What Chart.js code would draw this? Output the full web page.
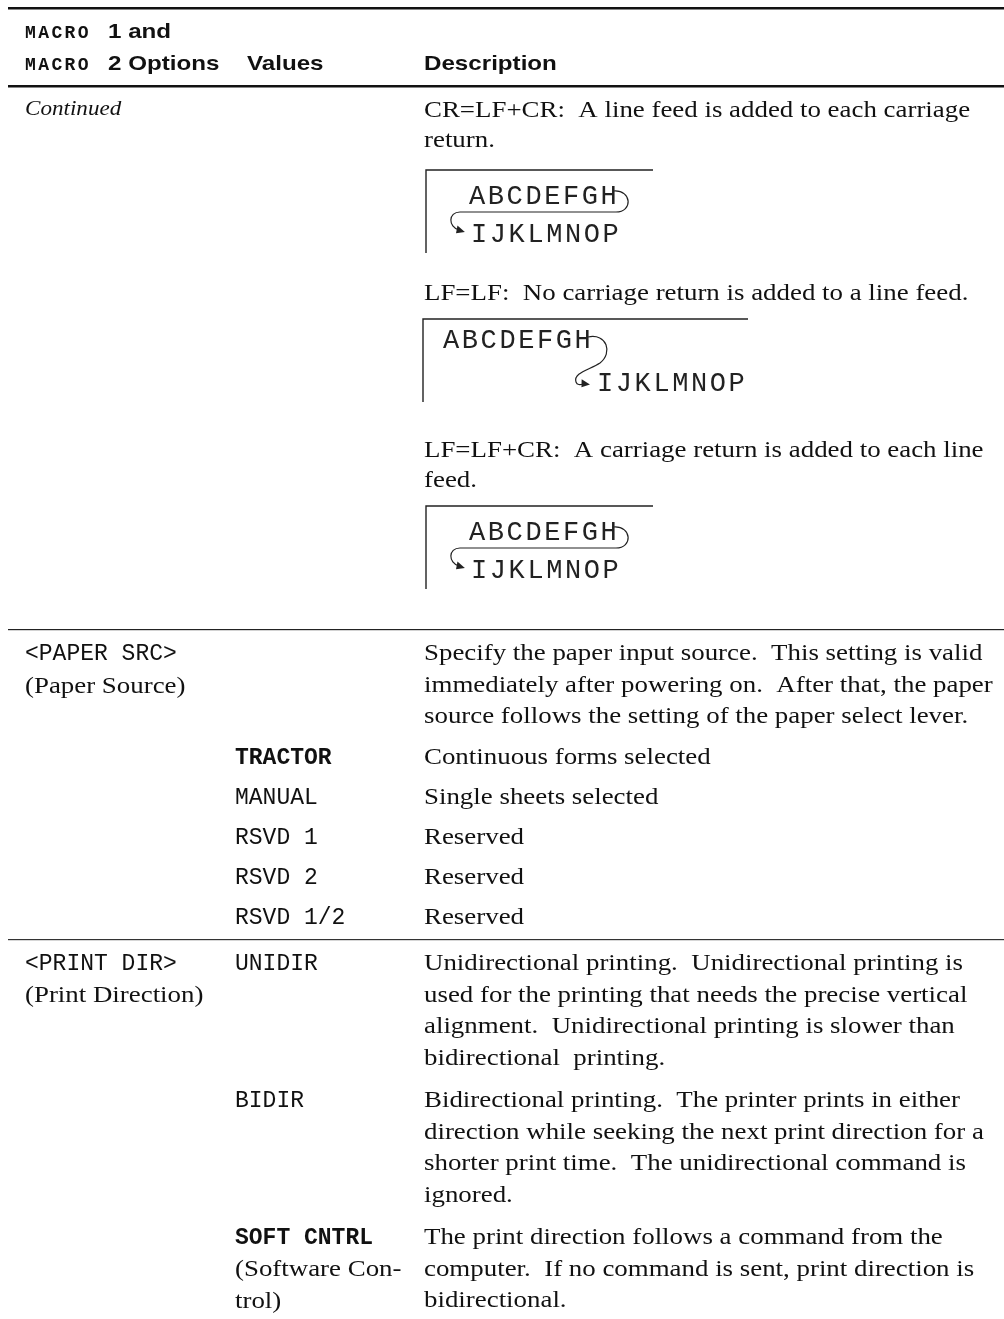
<!DOCTYPE html>
<html>
<head>
<meta charset="utf-8">
<script src="https://cdn.jsdelivr.net/npm/chart.js@4"></script>
<style>
  html, body { margin: 0; padding: 0; background: #fff; }
  #page { display: block; }
</style>
</head>
<body>
<canvas id="page" width="1004" height="1319"></canvas>
<script>
// header cells
const headOptions = [["MACRO", "1 and"], ["MACRO", "2 Options"]];
const headValues = "Values";
const headDesc = "Description";

// first block (continued from previous page)
const continuedLabel = "Continued";
const crLines = ["CR=LF+CR:  A line feed is added to each carriage", "return."];
const lfLines = ["LF=LF:  No carriage return is added to a line feed."];
const lfcrLines = ["LF=LF+CR:  A carriage return is added to each line", "feed."];
const diagramTop = "ABCDEFGH";
const diagramBottom = "IJKLMNOP";

// paper source
const paperOption = ["<PAPER SRC>", "(Paper Source)"];
const paperIntro = [
  "Specify the paper input source.  This setting is valid",
  "immediately after powering on.  After that, the paper",
  "source follows the setting of the paper select lever."
];
const paperValues = ["TRACTOR", "MANUAL", "RSVD 1", "RSVD 2", "RSVD 1/2"];
const paperDescs = ["Continuous forms selected", "Single sheets selected", "Reserved", "Reserved", "Reserved"];
const paperDefault = "TRACTOR";

// print direction
const printOption = ["<PRINT DIR>", "(Print Direction)"];
const printValues = ["UNIDIR", "BIDIR", "SOFT CNTRL"];
const printValueNotes = [[], [], ["(Software Con-", "trol)"]];
const printDescs = [
  ["Unidirectional printing.  Unidirectional printing is",
   "used for the printing that needs the precise vertical",
   "alignment.  Unidirectional printing is slower than",
   "bidirectional  printing."],
  ["Bidirectional printing.  The printer prints in either",
   "direction while seeking the next print direction for a",
   "shorter print time.  The unidirectional command is",
   "ignored."],
  ["The print direction follows a command from the",
   "computer.  If no command is sent, print direction is",
   "bidirectional."]
];
const printDefault = "SOFT CNTRL";

// fonts: [css font, horizontal stretch]
const SERIF = ['24px "Liberation Serif"', 1.12];
const ITALIC = ['italic 21px "Liberation Serif"', 1.1];
const SANS_B = ['bold 21px "Liberation Sans"', 1.15];
const MONO = ['23px "Liberation Mono"', 1];
const MONO_B = ['bold 23px "Liberation Mono"', 1];
const HEAD_MONO = 'bold 18px "Liberation Mono"';
const DIAG = '27px "Liberation Mono"';

const COL1 = 25, COL2 = 235, COL3 = 424;

function txt(ctx, s, x, y, f) {
  ctx.font = f[0];
  ctx.save();
  ctx.translate(x, y);
  ctx.scale(f[1], 1);
  ctx.fillText(s, 0, 0);
  ctx.restore();
}

function lines(ctx, arr, x, y, step, f) {
  arr.forEach((s, i) => txt(ctx, s, x, y + i * step, f));
}

function spaced(ctx, s, x, y, font, step) {
  ctx.font = font;
  for (let i = 0; i < s.length; i++) ctx.fillText(s[i], x + i * step, y);
  return x + s.length * step;
}

function rule(ctx, y, w, color) {
  ctx.fillStyle = color;
  ctx.fillRect(8, y, 996, w);
  ctx.fillStyle = '#111';
}

function arrowHead(ctx, x, y, ang) {
  ctx.save();
  ctx.translate(x, y);
  ctx.rotate(ang);
  ctx.beginPath();
  ctx.moveTo(3, 0);
  ctx.lineTo(-6, -4);
  ctx.lineTo(-5, 4);
  ctx.closePath();
  ctx.fill();
  ctx.restore();
}

function frame(ctx, ox, oy, w, h) {
  ctx.strokeStyle = '#222';
  ctx.lineWidth = 1.4;
  ctx.beginPath();
  ctx.moveTo(ox + w, oy);
  ctx.lineTo(ox, oy);
  ctx.lineTo(ox, oy + h);
  ctx.stroke();
}

function diagramReturn(ctx, ox, oy) {
  frame(ctx, ox, oy, 227, 83);
  ctx.fillStyle = '#222';
  spaced(ctx, diagramTop, ox + 43, oy + 34, DIAG, 18.8);
  spaced(ctx, diagramBottom, ox + 45, oy + 72, DIAG, 18.8);
  ctx.lineWidth = 1.2;
  ctx.beginPath();
  ctx.moveTo(ox + 188, oy + 21);
  ctx.bezierCurveTo(ox + 206, oy + 20, ox + 207, oy + 42, ox + 190, oy + 42);
  ctx.lineTo(ox + 34, oy + 42);
  ctx.bezierCurveTo(ox + 22, oy + 42, ox + 22, oy + 57, ox + 33, oy + 60);
  ctx.stroke();
  arrowHead(ctx, ox + 36, oy + 61, 0.3);
  ctx.fillStyle = '#111';
}

function diagramFeed(ctx, ox, oy) {
  frame(ctx, ox, oy, 325, 83);
  ctx.fillStyle = '#222';
  spaced(ctx, diagramTop, ox + 20, oy + 29, DIAG, 18.8);
  spaced(ctx, diagramBottom, ox + 174, oy + 72, DIAG, 18.8);
  ctx.lineWidth = 1.2;
  ctx.beginPath();
  ctx.moveTo(ox + 165, oy + 18);
  ctx.bezierCurveTo(ox + 184, oy + 14, ox + 190, oy + 34, ox + 177, oy + 44);
  ctx.bezierCurveTo(ox + 166, oy + 51, ox + 150, oy + 54, ox + 153, oy + 63);
  ctx.bezierCurveTo(ox + 154, oy + 66, ox + 157, oy + 66, ox + 160, oy + 65);
  ctx.stroke();
  arrowHead(ctx, ox + 164, oy + 65, 0.15);
  ctx.fillStyle = '#111';
}

const tablePlugin = {
  id: 'tablePage',
  beforeDraw(chart) {
    const ctx = chart.ctx;
    ctx.save();
    ctx.fillStyle = '#fff';
    ctx.fillRect(0, 0, chart.width, chart.height);
    ctx.restore();
  },
  afterDraw(chart) {
    const ctx = chart.ctx;
    ctx.save();
    ctx.fillStyle = '#111';
    ctx.textBaseline = 'alphabetic';

    // header
    rule(ctx, 7, 2.5, '#111');
    [38, 70].forEach((y, i) => {
      const x = spaced(ctx, headOptions[i][0], COL1, y, HEAD_MONO, 13.2);
      txt(ctx, headOptions[i][1], x + 17, y, SANS_B);
    });
    txt(ctx, headValues, 247, 70, SANS_B);
    txt(ctx, headDesc, COL3, 70, SANS_B);
    rule(ctx, 85, 2.5, '#111');

    // continued block
    txt(ctx, continuedLabel, COL1, 115, ITALIC);
    lines(ctx, crLines, COL3, 117, 30, SERIF);
    diagramReturn(ctx, 426, 170);
    lines(ctx, lfLines, COL3, 300, 31, SERIF);
    diagramFeed(ctx, 423, 319);
    lines(ctx, lfcrLines, COL3, 457, 30, SERIF);
    diagramReturn(ctx, 426, 506);
    rule(ctx, 629, 1.2, '#222');

    // paper source
    txt(ctx, paperOption[0], COL1, 660, MONO);
    txt(ctx, paperOption[1], COL1, 693, SERIF);
    lines(ctx, paperIntro, COL3, 660, 31.5, SERIF);
    paperValues.forEach((v, i) => {
      const y = 764 + i * 40;
      txt(ctx, v, COL2, y, v === paperDefault ? MONO_B : MONO);
      txt(ctx, paperDescs[i], COL3, y, SERIF);
    });
    rule(ctx, 939, 1.2, '#333');

    // print direction
    txt(ctx, printOption[0], COL1, 970, MONO);
    txt(ctx, printOption[1], COL1, 1002, SERIF);
    const starts = [970, 1107, 1244];
    printValues.forEach((v, i) => {
      const y = starts[i];
      txt(ctx, v, COL2, y, v === printDefault ? MONO_B : MONO);
      lines(ctx, printValueNotes[i], COL2, y + 32, 31.5, SERIF);
      lines(ctx, printDescs[i], COL3, y, 31.7, SERIF);
    });
    ctx.restore();
  }
};

new Chart(document.getElementById('page'), {
  type: 'scatter',
  data: { datasets: [] },
  options: {
    responsive: false,
    animation: false,
    devicePixelRatio: 1,
    layout: { padding: 0 },
    scales: { x: { display: false }, y: { display: false } },
    plugins: { legend: { display: false }, tooltip: { enabled: false } }
  },
  plugins: [tablePlugin]
});
</script>
</body>
</html>
